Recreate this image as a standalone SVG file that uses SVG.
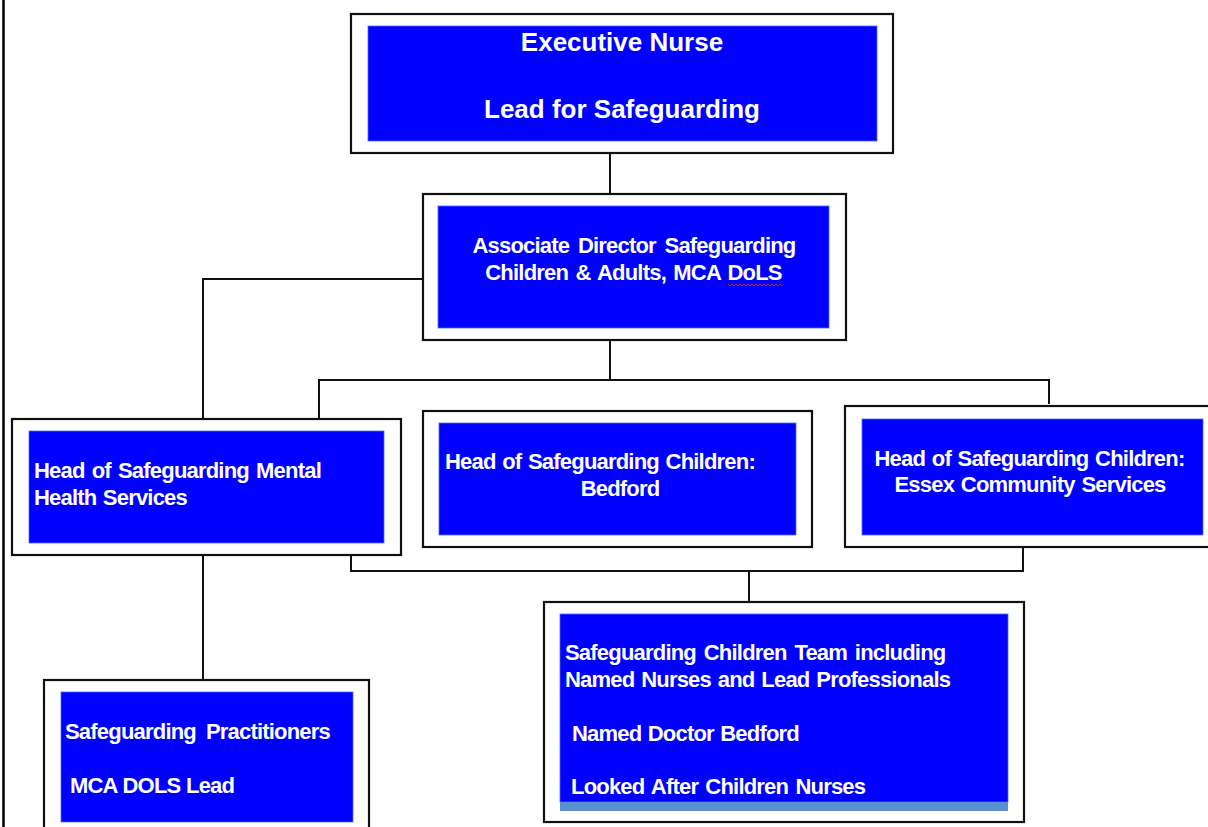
<svg xmlns="http://www.w3.org/2000/svg" width="1208" height="827" viewBox="0 0 1208 827">
<style>
.outer{fill:#fff;stroke:#111;stroke-width:2.2}
.inner{fill:#0000ff;stroke:#4d6bff;stroke-width:0.8}
.t{font-family:"Liberation Sans",Arial,sans-serif;font-weight:bold;font-size:22px;letter-spacing:-0.8px;fill:#fff}
.big{font-size:26px;letter-spacing:0}
.c{text-anchor:middle}
.ln{fill:none;stroke:#111;stroke-width:2}
</style>
<rect x="0" y="0" width="1208" height="827" fill="#fff"/>
<line x1="3.5" y1="0" x2="3.5" y2="827" stroke="#000" stroke-width="2.5"/>
<g id="connectors">
<path class="ln" d="M610 153V194"/>
<path class="ln" d="M610 340V380"/>
<path class="ln" d="M319 419V380H1049V404"/>
<path class="ln" d="M422 279H203V419"/>
<path class="ln" d="M203 555V680"/>
<path class="ln" d="M351 555V571H1023V547"/>
<path class="ln" d="M749 571V602"/>
</g>
<g id="executive">
<rect class="outer" x="351" y="14" width="542" height="139"/>
<rect class="inner" x="368" y="26" width="509" height="115"/>
<text class="t big c" x="622" y="51">Executive Nurse</text>
<text class="t big c" x="622" y="118">Lead for Safeguarding</text>
</g>
<g id="associate">
<rect class="outer" x="423" y="194" width="423" height="146"/>
<rect class="inner" x="438" y="206" width="391" height="122"/>
<text class="t c" x="634" y="253" word-spacing="3.35">Associate Director Safeguarding</text>
<text class="t c" x="633.5" y="280" word-spacing="2">Children &amp; Adults, MCA DoLS</text>
<polyline points="728,284 730,286 732,284 734,286 736,284 738,286 740,284 742,286 744,284 746,286 748,284 750,286 752,284 754,286 756,284 758,286 760,284 762,286 764,284 766,286 768,284 770,286 772,284 774,286 776,284 778,286 780,284 782,286" fill="none" stroke="#e02020" stroke-width="0.9"/>
</g>
<g id="mental-health">
<rect class="outer" x="12" y="419" width="389" height="136"/>
<rect class="inner" x="29" y="431" width="355" height="112"/>
<text class="t" x="34" y="478" word-spacing="1.8">Head of Safeguarding Mental</text>
<text class="t" x="34" y="505" word-spacing="1.1">Health Services</text>
</g>
<g id="bedford">
<rect class="outer" x="423" y="411" width="389" height="136"/>
<rect class="inner" x="439" y="423" width="357" height="112"/>
<text class="t" x="445" y="469" word-spacing="1.3">Head of Safeguarding Children:</text>
<text class="t c" x="620" y="496">Bedford</text>
</g>
<g id="essex">
<rect class="outer" x="845" y="406" width="367" height="141"/>
<rect class="inner" x="862" y="419" width="341" height="116"/>
<text class="t c" x="1029.5" y="466" word-spacing="1.3">Head of Safeguarding Children:</text>
<text class="t c" x="1030" y="492" word-spacing="1.45">Essex Community Services</text>
</g>
<g id="practitioners">
<rect class="outer" x="44" y="680" width="325" height="160"/>
<rect class="inner" x="61" y="692" width="292" height="130"/>
<text class="t" x="65" y="739" word-spacing="4.6">Safeguarding Practitioners</text>
<text class="t" x="70" y="793" word-spacing="0.3">MCA DOLS Lead</text>
</g>
<g id="children-team">
<rect class="outer" x="544" y="602" width="480" height="220"/>
<rect class="inner" x="560" y="614" width="448" height="188"/>
<rect x="560" y="802" width="448" height="9" fill="#5a8fd3"/>
<text class="t" x="565" y="660" word-spacing="2.5">Safeguarding Children Team including</text>
<text class="t" x="565" y="687" word-spacing="1.5">Named Nurses and Lead Professionals</text>
<text class="t" x="572" y="741" word-spacing="1.1">Named Doctor Bedford</text>
<text class="t" x="571" y="794" word-spacing="1.9">Looked After Children Nurses</text>
</g>
</svg>
